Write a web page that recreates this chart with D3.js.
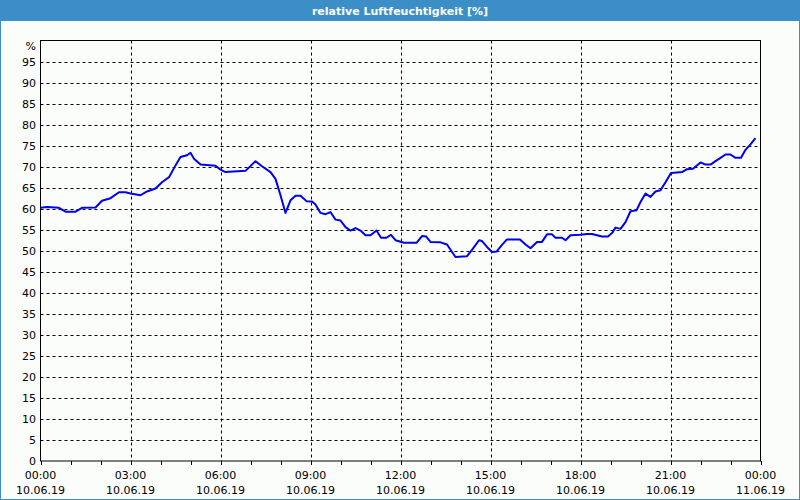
<!DOCTYPE html>
<html lang="en">
<head>
<meta charset="utf-8" />
<title>relative Luftfeuchtigkeit</title>
<style>
  body { margin: 0; background: #fff; }
  svg { display: block; font-family: "DejaVu Sans", Verdana, sans-serif; }
</style>
</head>
<body>
<script src="https://d3js.org/d3.v7.min.js"></script>
<div id="chart"></div>
<script>
    // minutes since 10.06.19 00:00 and relative humidity in %
    const minutes = [
        0, 13, 37, 50, 70, 83, 110, 123, 140, 157, 170, 180, 200, 213, 230, 243, 257, 270, 280, 293,
        300, 307, 320, 350, 360, 370, 410, 430, 443, 460, 470, 480, 490, 500, 510, 520, 532, 543, 550,
        560, 570, 580, 590, 600, 610, 620, 630, 640, 650, 660, 672, 681, 692, 701, 710, 727, 752, 763,
        771, 780, 800, 813, 830, 853, 863, 877, 883, 893, 903, 912, 923, 933, 959, 970, 980, 993, 1003,
        1013, 1023, 1030, 1043, 1050, 1060, 1080, 1093, 1103, 1113, 1123, 1135, 1143, 1150, 1160, 1170,
        1180, 1192, 1200, 1210, 1220, 1230, 1240, 1250, 1261, 1273, 1283, 1293, 1305, 1320, 1330, 1340,
        1350, 1360, 1370, 1380, 1390, 1401, 1410, 1420, 1430
    ];
    const humidity = [
        60.2, 60.4, 60.2, 59.3, 59.3, 60.2, 60.3, 61.9, 62.5, 63.9, 63.9, 63.6, 63.2, 64.1, 64.8, 66.3, 67.5, 70.3, 72.3, 72.7,
        73.3, 71.9, 70.5, 70.2, 69.3, 68.7, 69.0, 71.3, 70.1, 68.7, 67.1, 63.2, 59.0, 62.0, 63.1, 63.1, 61.8, 61.7, 61.0,
        59.0, 58.7, 59.2, 57.4, 57.2, 55.6, 54.8, 55.4, 54.8, 53.7, 53.7, 54.8, 53.1, 53.1, 53.8, 52.5, 51.9, 51.9, 53.5,
        53.4, 52.1, 52.0, 51.5, 48.5, 48.7, 50.2, 52.5, 52.3, 50.9, 49.7, 49.8, 51.4, 52.7, 52.7, 51.5, 50.6, 52.1, 52.1,
        53.9, 53.9, 53.1, 53.1, 52.5, 53.7, 53.8, 54.0, 54.0, 53.7, 53.4, 53.4, 54.2, 55.5, 55.2, 56.8,
        59.4, 59.6, 61.6, 63.6, 62.8, 64.1, 64.4, 66.3, 68.5, 68.6, 68.7, 69.4, 69.5, 71.0, 70.5, 70.5,
        71.3, 72.1, 72.9, 72.9, 72.1, 72.1, 74.0, 75.3, 76.8
    ];
    const timeLabels = ["00:00", "03:00", "06:00", "09:00", "12:00", "15:00", "18:00", "21:00", "00:00"];
    const dateLabels = ["10.06.19", "10.06.19", "10.06.19", "10.06.19", "10.06.19", "10.06.19", "10.06.19", "10.06.19", "11.06.19"];
    const yTicks = d3.range(0, 100, 5);
    const title = "relative Luftfeuchtigkeit [%]";

    const W = 800, H = 500;
    const plotL = 40.5, plotR = 760.5, plotT = 40.5, plotB = 461;

    const svg = d3.select("#chart").append("svg")
        .attr("width", W)
        .attr("height", H);

    // window background + border
    svg.append("rect").attr("width", W).attr("height", H).attr("fill", "#fbfdfb");
    svg.append("rect").attr("x", 0.5).attr("y", 0.5).attr("width", W - 1).attr("height", H - 1)
        .attr("fill", "none").attr("stroke", "#3c8fc6");
    svg.append("rect").attr("width", W).attr("height", 21).attr("fill", "#3c8fc6");
    svg.append("text")
        .attr("x", W / 2).attr("y", 15)
        .attr("text-anchor", "middle")
        .attr("fill", "#fff")
        .style("font-weight", "bold")
        .style("font-size", "11px")
        .text(title);

    const x = d3.scaleLinear().domain([0, 1440]).range([plotL, plotR]);
    const y = d3.scaleLinear().domain([0, 100]).range([plotB, plotT]);

    // horizontal grid
    svg.append("g").selectAll("line")
        .data(yTicks.filter(d => d > 0))
        .join("line")
        .attr("x1", plotL).attr("x2", plotR)
        .attr("y1", d => Math.round(y(d)) + 0.5).attr("y2", d => Math.round(y(d)) + 0.5)
        .attr("stroke", "#000")
        .attr("stroke-dasharray", "3,3");

    // vertical grid every 3 hours
    svg.append("g").selectAll("line")
        .data(d3.range(180, 1440, 180))
        .join("line")
        .attr("x1", d => Math.round(x(d)) + 0.5).attr("x2", d => Math.round(x(d)) + 0.5)
        .attr("y1", plotT).attr("y2", plotB)
        .attr("stroke", "#000")
        .attr("stroke-dasharray", "3,3");

    // hourly ticks below the axis
    svg.append("g").selectAll("line")
        .data(d3.range(0, 1441, 60))
        .join("line")
        .attr("x1", d => Math.round(x(d)) + 0.5).attr("x2", d => Math.round(x(d)) + 0.5)
        .attr("y1", plotB).attr("y2", plotB + 4)
        .attr("stroke", "#000");

    // plot frame
    svg.append("rect")
        .attr("x", plotL).attr("y", plotT)
        .attr("width", plotR - plotL).attr("height", plotB - plotT)
        .attr("fill", "none").attr("stroke", "#000");

    // y labels
    svg.append("g").selectAll("text")
        .data(yTicks)
        .join("text")
        .attr("x", 36)
        .attr("y", d => y(d) + 4)
        .attr("text-anchor", "end")
        .style("font-size", "11px")
        .text(d => d);
    svg.append("text").attr("x", 36).attr("y", 50)
        .attr("text-anchor", "end").style("font-size", "11px").text("%");

    // x labels
    const xl = svg.append("g").selectAll("g")
        .data(timeLabels.map((t, i) => ({t, d: dateLabels[i], m: i * 180})))
        .join("g");
    xl.append("text").attr("x", d => x(d.m)).attr("y", 479)
        .attr("text-anchor", "middle").style("font-size", "11px").text(d => d.t);
    xl.append("text").attr("x", d => x(d.m)).attr("y", 494)
        .attr("text-anchor", "middle").style("font-size", "11px").text(d => d.d);

    // humidity line
    const line = d3.line()
        .x((d, i) => x(minutes[i]))
        .y(d => y(d));
    svg.append("path")
        .datum(humidity)
        .attr("d", line)
        .attr("fill", "none")
        .attr("stroke", "#0000f0")
        .attr("stroke-width", 2)
        .attr("stroke-linejoin", "round");
</script>
</body>
</html>
